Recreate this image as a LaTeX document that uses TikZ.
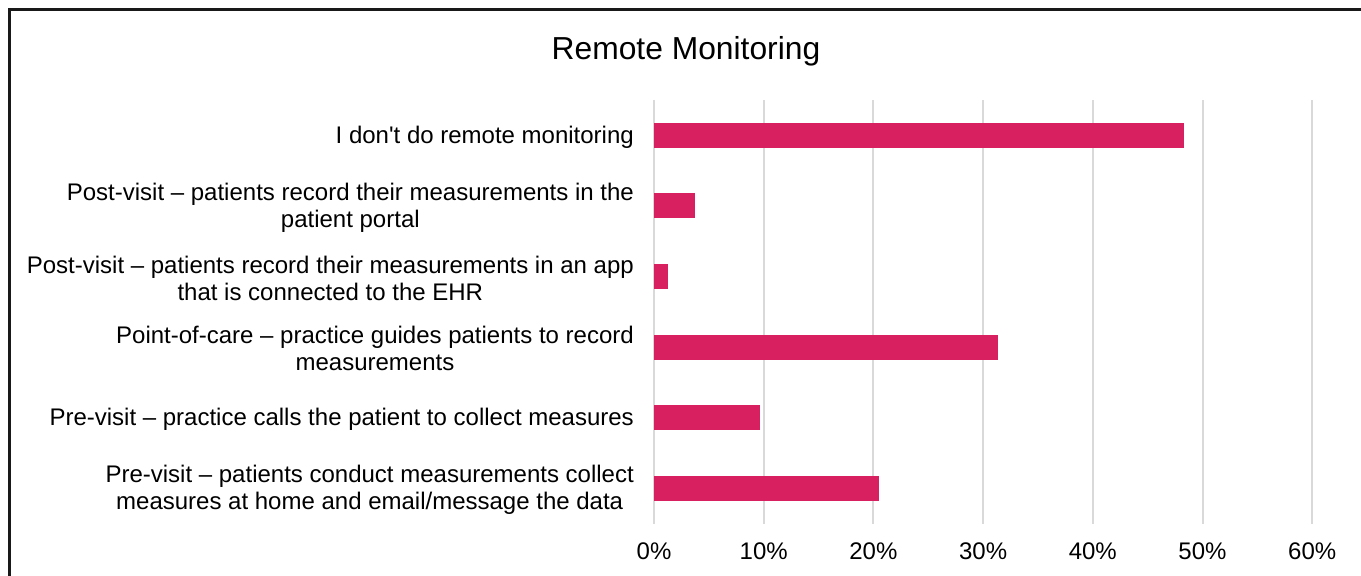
\documentclass[tikz,border=0pt]{standalone}
\usepackage{fontspec}
\setmainfont{Liberation Sans}
\newfontfamily\plainap{Liberation Sans}
\definecolor{barc}{RGB}{216,32,96}
\definecolor{gridc}{RGB}{217,217,217}
\definecolor{framec}{RGB}{25,25,25}
\begin{document}
\begin{tikzpicture}[x=1pt,y=-1pt,
  bar/.style={fill=barc,draw=none},
  gridline/.style={draw=gridc,line width=2pt},
  catlabel/.style={anchor=east,align=center,inner sep=0pt,font=\fontsize{24}{27}\selectfont},
  ticklabel/.style={anchor=center,inner sep=0pt,font=\fontsize{24}{27}\selectfont},
  titlelabel/.style={anchor=center,inner sep=0pt,font=\fontsize{31.8}{34}\selectfont}]
\useasboundingbox (0,0) rectangle (1361,576);
\fill[white] (0,0) rectangle (1361,576);
\draw[framec,line width=2.2pt] (9.5,9.5) rectangle (1400,620);
% grid
\foreach \i/\t in {0/0\%,1/10\%,2/20\%,3/30\%,4/40\%,5/50\%,6/60\%}{
  \coordinate (gt\i) at ({654+109.7*\i},100);
  \coordinate (gb\i) at ({654+109.7*\i},523.5);
  \draw[gridline] (gt\i) -- (gb\i);
  \node[ticklabel] (tick\i) at ({654+109.7*\i},551) {\t};
}
\node[titlelabel] (title) at (686,51) {Remote Monitoring};
% bars
\foreach \k/\v in {0/48.3,1/3.7,2/1.25,3/31.4,4/9.7,5/20.5}{
  \fill[bar] (654,{135.3+70.6*\k-12.5}) rectangle ({654+10.97*\v},{135.3+70.6*\k+12.5});
}
\node[catlabel] (c1) at (634,137) {I don{\plainap'}t do remote monitoring};
\node[catlabel] (c2) at (634,207.6) {Post-visit -- patients record their measurements in the\\patient portal};
\node[catlabel] (c3) at (634,278.2) {Post-visit -- patients record their measurements in an app\\that is connected to the EHR};
\node[catlabel] (c4) at (634,348.8) {Point-of-care -- practice guides patients to record\\measurements};
\node[catlabel] (c5) at (634,419.4) {Pre-visit -- practice calls the patient to collect measures};
\node[catlabel] (c6) at (634,490) {Pre-visit -- patients conduct measurements collect\\measures at home and email/message the data};
\end{tikzpicture}
\end{document}
